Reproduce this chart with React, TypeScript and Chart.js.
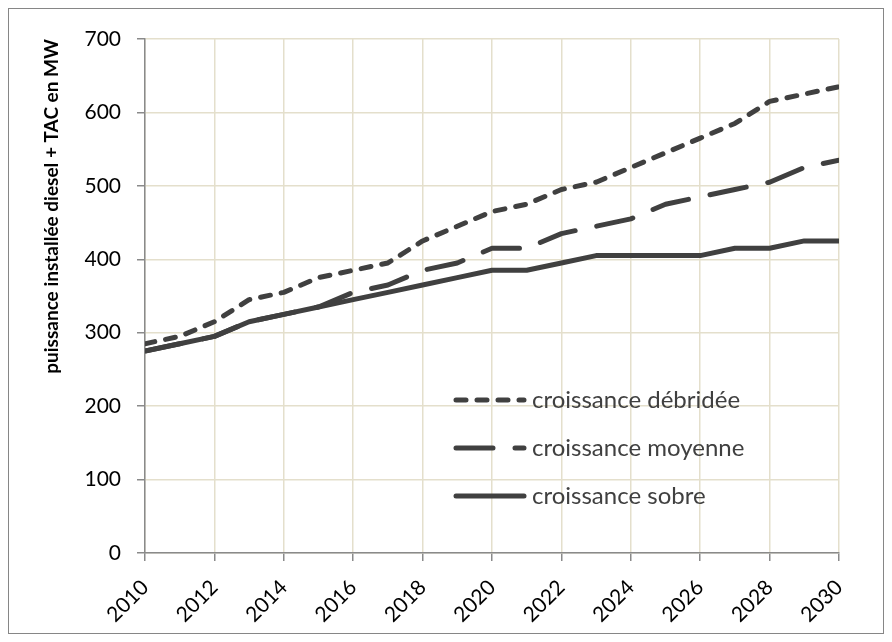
import { useEffect, useRef } from "react";
import { Chart, registerables } from "chart.js";

Chart.register(...registerables);

const years = [2010, 2011, 2012, 2013, 2014, 2015, 2016, 2017, 2018, 2019, 2020, 2021, 2022, 2023, 2024, 2025, 2026, 2027, 2028, 2029, 2030];
const debridee = [285, 295, 315, 345, 355, 375, 385, 395, 425, 445, 465, 475, 495, 505, 525, 545, 565, 585, 615, 625, 635];
const moyenne = [275, 285, 295, 315, 325, 335, 355, 365, 385, 395, 415, 415, 435, 445, 455, 475, 485, 495, 505, 525, 535];
const sobre = [275, 285, 295, 315, 325, 335, 345, 355, 365, 375, 385, 385, 395, 405, 405, 405, 405, 415, 415, 425, 425];

const seriesNames = ["croissance débridée", "croissance moyenne", "croissance sobre"];
const yTitle = "puissance installée diesel + TAC en MW";

const FONT = "Lato";
const LINE = "#404040";
const GRID = "#e4dfcc";
const AXIS = "#8a8a8a";

const dashes = [[10, 11], [37, 22], []];

const legendPlugin = {
  id: "insideLegend",
  afterDraw(chart: any) {
    const { ctx, chartArea } = chart;
    const x0 = chartArea.left + 311;
    const x1 = chartArea.left + 379;
    const tx = chartArea.left + 387;
    const ys = [361, 409, 457];
    ctx.save();
    chart.data.datasets.forEach((ds: any, i: number) => {
      const y = chartArea.top + ys[i];
      ctx.beginPath();
      ctx.strokeStyle = ds.borderColor;
      ctx.lineWidth = ds.borderWidth;
      ctx.lineCap = "round";
      ctx.setLineDash(ds.borderDash || []);
      ctx.moveTo(x0, y);
      ctx.lineTo(x1, y);
      ctx.stroke();
      ctx.setLineDash([]);
      ctx.fillStyle = "#404040";
      ctx.font = `24px ${FONT}`;
      ctx.textBaseline = "middle";
      ctx.textAlign = "left";
      ctx.fillText(ds.label, tx, y);
    });
    ctx.restore();
  },
};

export default function App() {
  const ref = useRef<HTMLCanvasElement>(null);
  useEffect(() => {
    if (!ref.current) return;
    const mk = (vals: number[]) => years.map((x, i) => ({ x, y: vals[i] }));
    const all = [debridee, moyenne, sobre];
    const chart = new Chart(ref.current, {
      type: "line",
      data: {
        datasets: all.map((vals, i) => ({
          label: seriesNames[i],
          data: mk(vals),
          borderColor: LINE,
          borderWidth: 5,
          borderDash: dashes[i],
          borderCapStyle: i === 2 ? "butt" : "round",
          borderJoinStyle: "round",
          pointRadius: 0,
          tension: 0,
          fill: false,
        })),
      },
      options: {
        animation: false,
        responsive: true,
        maintainAspectRatio: false,
        layout: { padding: { top: 30, right: 44, left: 31, bottom: 0 } },
        plugins: {
          legend: { display: false },
          tooltip: { enabled: false },
        },
        scales: {
          x: {
            type: "linear",
            min: 2010,
            max: 2030,
            afterFit: (s: any) => {
              s.height = 80;
            },
            ticks: {
              stepSize: 2,
              minRotation: 45,
              maxRotation: 45,
              padding: 14,
              color: "#000",
              font: { family: FONT, size: 21 },
              callback: (v: any) => String(v),
            },
            grid: { color: GRID, lineWidth: 1.5, tickColor: AXIS, tickLength: 8 },
            border: { color: AXIS, width: 1.5 },
          },
          y: {
            min: 0,
            max: 700,
            afterFit: (s: any) => {
              s.width = 105;
            },
            ticks: {
              stepSize: 100,
              padding: 16,
              color: "#000",
              font: { family: FONT, size: 21 },
            },
            grid: { color: GRID, lineWidth: 1.5, tickColor: AXIS, tickLength: 8 },
            border: { color: AXIS, width: 1.5 },
            title: {
              display: true,
              text: yTitle,
              align: "end",
              color: "#000",
              padding: { top: 0, bottom: 0 },
              font: { family: FONT, size: 19, weight: "bold" },
            },
          },
        },
      },
      plugins: [legendPlugin],
    } as any);
    return () => chart.destroy();
  }, []);

  return (
    <div
      style={{
        width: 876,
        height: 626,
        border: "1px solid #868686",
        boxSizing: "border-box",
        position: "relative",
        background: "#fff",
      }}
    >
      <div style={{ position: "absolute", left: 0, top: 0, width: 874, height: 624 }}>
        <canvas ref={ref} />
      </div>
    </div>
  );
}
